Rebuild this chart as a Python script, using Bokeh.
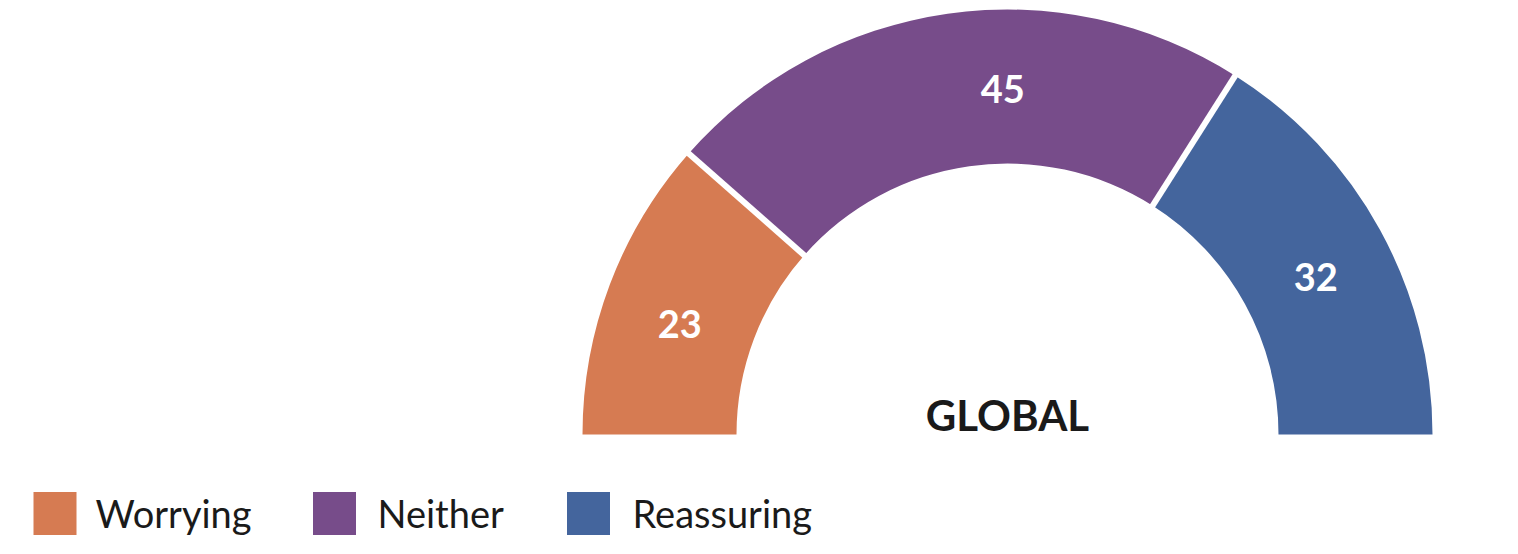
import math
from bokeh.plotting import figure
from bokeh.models import Range1d
from bokeh.core.properties import value
from bokeh.embed import file_html
from bokeh.resources import INLINE

# ---- data ----
categories = ["Worrying", "Neither", "Reassuring"]
values = [23, 45, 32]
colors = ["#D67B52", "#774C8A", "#44659D"]
center_label = "GLOBAL"

# ---- layout / style ----
W, H = 1502, 538
cx, cy = 1007, 104
r_out, r_in = 425, 271
label_r = 346
label_angle_adj = [2.0, -7.3, -1.8]  # degrees, visual tweak of label placement
gap_w = 6

p = figure(width=W, height=H, output_backend="svg", toolbar_location=None,
           x_range=Range1d(0, W), y_range=Range1d(0, H), min_border=0)
p.axis.visible = False
p.grid.visible = False
p.outline_line_color = None
p.background_fill_color = "white"

total = sum(values)
starts, ends = [], []
a = math.pi
for v in values:
    span = v / total * math.pi
    starts.append(a - span)
    ends.append(a)
    a -= span

p.annular_wedge(x=[cx] * 3, y=[cy] * 3, inner_radius=r_in, outer_radius=r_out,
                start_angle=starts, end_angle=ends, color=colors, line_color=None)

# white gaps at internal boundaries
bx0, by0, bx1, by1 = [], [], [], []
for ang in starts[:-1]:
    bx0.append(cx + (r_in - 3) * math.cos(ang))
    by0.append(cy + (r_in - 3) * math.sin(ang))
    bx1.append(cx + (r_out + 3) * math.cos(ang))
    by1.append(cy + (r_out + 3) * math.sin(ang))
p.segment(x0=bx0, y0=by0, x1=bx1, y1=by1, line_color="white", line_width=gap_w)

# value labels
lx, ly = [], []
for s, e, adj in zip(starts, ends, label_angle_adj):
    m = (s + e) / 2 + math.radians(adj)
    lx.append(cx + label_r * math.cos(m))
    ly.append(cy + label_r * math.sin(m))
p.text(x=lx, y=ly, text=[str(v) for v in values], text_color="white",
       text_font=value("Lato"), text_font_style="bold", text_font_size="38px",
       text_align="center", text_baseline="middle")

# center label
p.text(x=[cx], y=[cy + 20], text=[center_label], text_color="#1a1a1a",
       text_font=value("Lato"), text_font_style="bold", text_font_size="42px",
       text_align="center", text_baseline="middle")

# legend
sq_x = [54.5, 334, 588]
txt_x = [95, 377, 632]
sq = 43
p.rect(x=sq_x, y=[25] * 3, width=sq, height=sq, color=colors, line_color=None)
p.text(x=txt_x, y=[26] * 3, text=categories, text_color="#1a1a1a",
       text_font=value("Lato"), text_font_size="38px",
       text_align="left", text_baseline="middle")

open("out.html", "w").write(file_html(p, INLINE))
